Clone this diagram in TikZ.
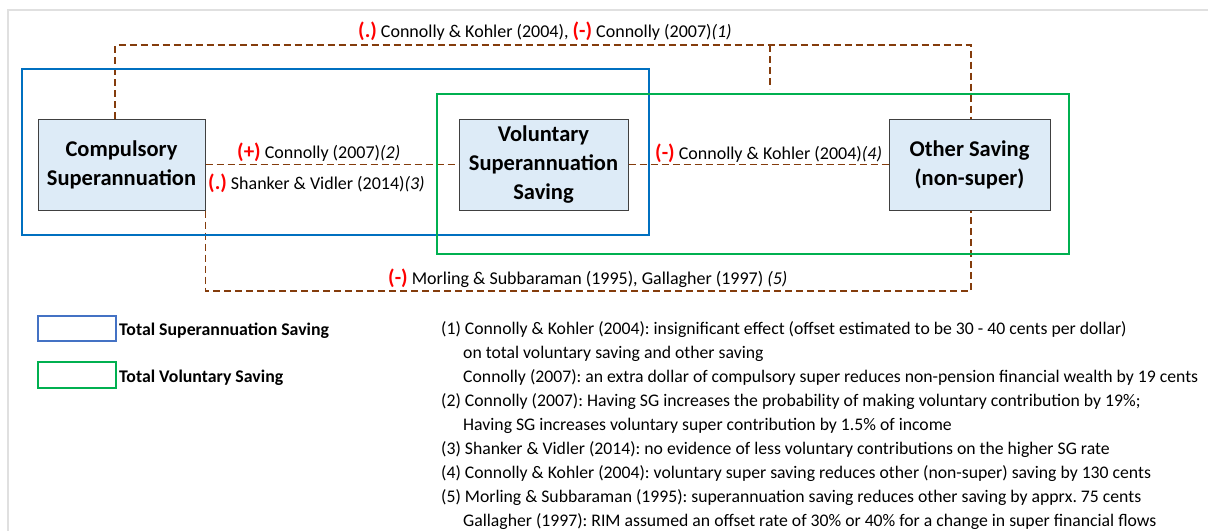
\documentclass[tikz,border=0pt]{standalone}
\usepackage{fontspec}
\setmainfont{Carlito}
\frenchspacing
\definecolor{brn}{RGB}{132,60,12}
\definecolor{boxfill}{RGB}{221,235,247}
\definecolor{boxline}{RGB}{64,64,64}
\definecolor{bigblue}{RGB}{0,112,192}
\definecolor{biggreen}{RGB}{0,176,80}
\definecolor{legblue}{RGB}{68,114,196}
\definecolor{sgred}{RGB}{255,0,0}
\newcommand\sgn[1]{{\fontsize{21}{21}\selectfont\bfseries\color{sgred}(#1)}}
\tikzset{
  sbox/.style={draw=boxline, line width=1pt, fill=boxfill, minimum height=91pt, align=center, inner sep=0pt, font=\fontsize{22.5}{29}\selectfont\bfseries},
  conn/.style={draw=brn, line width=1.6pt, dash pattern=on 7pt off 4pt},
  lbl/.style={anchor=base west, inner sep=0pt, font=\fontsize{18}{18}\selectfont},
  note/.style={anchor=base west, inner sep=0pt, font=\fontsize{17.7}{24}\selectfont},
  legtxt/.style={anchor=base west, inner sep=0pt, font=\fontsize{17.8}{18}\selectfont\bfseries},
}
\begin{document}
\begin{tikzpicture}[x=1pt,y=-1pt]
\useasboundingbox (0,0) rectangle (1208,531);
\draw[black!12, line width=1.2pt] (8,531) -- (8,10) -- (1208,10);

\node[sbox, minimum width=167pt] (comp) at (121.5,164.5) {Compulsory\\Superannuation};
\node[sbox, minimum width=169pt] (vol) at (543.5,164.5) {Voluntary\\Superannuation\\Saving};
\node[sbox, minimum width=161pt] (oth) at (969.5,164.5) {Other Saving\\(non-super)};

\coordinate (ty) at (0,45);
\coordinate (by) at (0,291);
\coordinate (brA) at (770,45);
\coordinate (brB) at (770,89);

\draw[conn] ([xshift=-6.5pt]comp.north) -- ([xshift=-6.5pt]comp.north |- ty) -- ([xshift=1.5pt]oth.north |- ty) -- ([xshift=1.5pt]oth.north);
\draw[conn] (brA) -- (brB);
\draw[conn] (comp.east) -- (vol.west);
\draw[conn] (vol.east) -- (oth.west);
\draw[conn] (comp.south east) -- (comp.south east |- by) -- ([xshift=1.5pt]oth.south |- by) -- ([xshift=1.5pt]oth.south);

\draw[bigblue, line width=2.6pt] (22,69) rectangle (649,235);
\draw[biggreen, line width=2.6pt] (437,94) rectangle (1069,254);

\node[lbl] (l1) at (358,37) {\sgn{.} Connolly \& Kohler (2004), \sgn{-} Connolly (2007)\textit{(1)}};
\node[lbl] (l2) at (237,158) {\sgn{+} Connolly (2007)\textit{(2)}};
\node[lbl] (l3) at (208,189) {\sgn{.} Shanker \& Vidler (2014)\textit{(3)}};
\node[lbl] (l4) at (655,159) {\sgn{-} Connolly \& Kohler (2004)\textit{(4)}};
\node[lbl] (l5) at (388,284) {\sgn{-} Morling \& Subbaraman (1995), Gallagher (1997) \textit{(5)}};

\draw[legblue, line width=2pt] (38,316) rectangle (116,341);
\draw[biggreen, line width=2pt] (38,362) rectangle (116,388);
\node[legtxt] (t1) at (119,335) {Total Superannuation Saving};
\node[legtxt] (t2) at (119,382) {Total Voluntary Saving};

\node[note] (n1) at (441,334) {(1) Connolly \& Kohler (2004): insignificant effect (offset estimated to be 30 - 40 cents per dollar)};
\node[note] (n2) at (463,358) {on total voluntary saving and other saving};
\node[note] (n3) at (463,382) {Connolly (2007): an extra dollar of compulsory super reduces non-pension financial wealth by 19 cents};
\node[note] (n4) at (441,406) {(2) Connolly (2007): Having SG increases the probability of making voluntary contribution by 19\%;};
\node[note] (n5) at (463,430) {Having SG increases voluntary super contribution by 1.5\% of income};
\node[note] (n6) at (441,454) {(3) Shanker \& Vidler (2014): no evidence of less voluntary contributions on the higher SG rate};
\node[note] (n7) at (441,478) {(4) Connolly \& Kohler (2004): voluntary super saving reduces other (non-super) saving by 130 cents};
\node[note] (n8) at (441,502) {(5) Morling \& Subbaraman (1995): superannuation saving reduces other saving by apprx. 75 cents};
\node[note] (n9) at (463,526) {Gallagher (1997): RIM assumed an offset rate of 30\% or 40\% for a change in super financial flows};
\end{tikzpicture}
\end{document}
